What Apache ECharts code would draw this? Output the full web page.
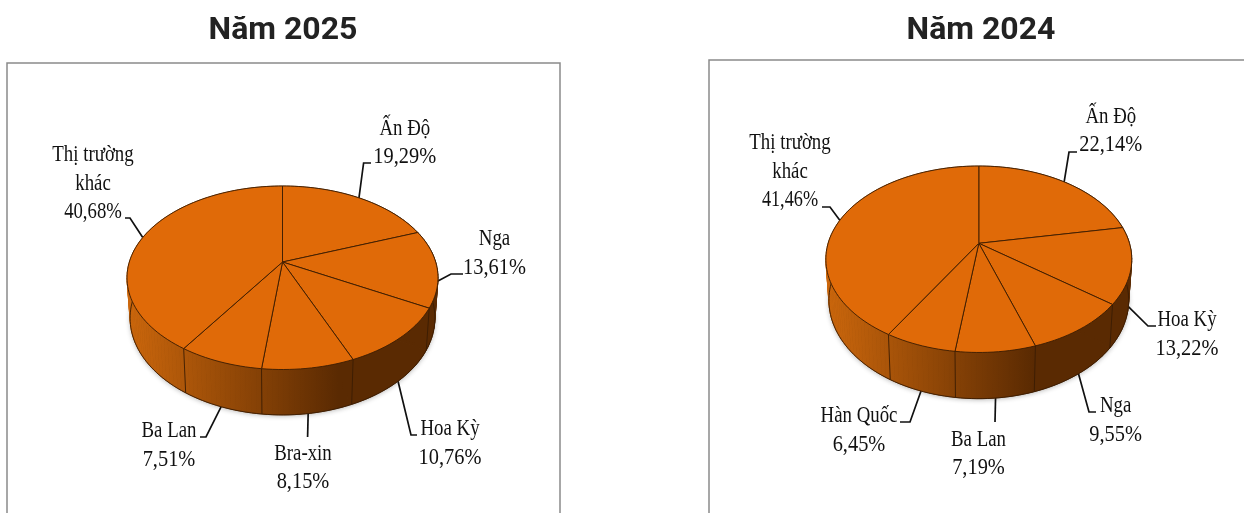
<!DOCTYPE html>
<html>
<head>
<meta charset="utf-8">
<style>html,body{margin:0;padding:0;background:#fff}#c{width:1244px;height:513px}</style>
<script src="https://cdn.jsdelivr.net/npm/echarts@6/dist/echarts.min.js"></script>
</head>
<body>
<div id="c"></div>
<script>
// ---- data ----
const titles = ['Năm 2025', 'Năm 2024'];
const categories2025 = ['Ấn Độ', 'Nga', 'Hoa Kỳ', 'Bra-xin', 'Ba Lan', 'Thị trường khác'];
const values2025 = [19.29, 13.61, 10.76, 8.15, 7.51, 40.68];
const categories2024 = ['Ấn Độ', 'Hoa Kỳ', 'Nga', 'Ba Lan', 'Hàn Quốc', 'Thị trường khác'];
const values2024 = [22.14, 13.22, 9.55, 7.19, 6.45, 41.46];

// ---- layout (camera of each tilted pie; label / leader placement) ----
const view2025 = {cx: 282.5, y0: 262, a: 153.2, b: 89.05, k: 0.1717, s: 0.98, d: 39.4};
const view2024 = {cx: 978.8, y0: 243.3, a: 150.7, b: 90.5, k: 0.171, s: 0.98, d: 40.1};
const labels2025 = [
  {x: 404.8, y: 142.5, rim: 0, line: [[363.6, 163], [371, 163]]},
  {x: 494.5, y: 253, rim: 0.35, line: [[451, 274], [463, 274]]},
  {x: 450, y: 443, rim: 1, line: [[411, 435], [417, 435]]},
  {x: 303, y: 467.5, rim: 1, line: [[307.6, 437]]},
  {x: 169, y: 445, rim: 1, line: [[206, 437], [200, 437]]},
  {x: 93, y: 183.5, rim: 0, numScale: 0.78, line: [[130, 218], [125, 218]]}
];
const labels2024 = [
  {x: 1110.8, y: 130.5, rim: 0, line: [[1069, 152], [1077, 152]]},
  {x: 1187, y: 334, rim: 1, line: [[1148, 326], [1156, 326]]},
  {x: 1115.6, y: 420, rim: 1, line: [[1089, 412], [1096, 412]]},
  {x: 978.5, y: 453.5, rim: 1, line: [[995, 422]]},
  {x: 859, y: 430, rim: 1, line: [[910, 422], [900, 422]]},
  {x: 790, y: 171.5, rim: 0, numScale: 0.76, line: [[830, 207], [822, 207]]}
];
const TOP = '#E06A08', EDGE = '#3A1C02', WALL_L = '#CC670C', WALL_R = '#5A2A02';
const LINE_GAP = 28.5;

function rows(names, vals) {
  let c = 0;
  return vals.map((v, i) => { const r = {name: names[i], value: [1, c, c + v, v]}; c += v; return r; });
}
function nameLines(name) {
  return name === 'Thị trường khác' ? ['Thị trường', 'khác'] : [name];
}
function pieSeries(polarIndex, names, vals, view, labels) {
  const wallFill = new echarts.graphic.LinearGradient(
    view.cx - view.a * 1.015, 0, view.cx + view.a * 1.015, 0,
    [{offset: 0, color: WALL_L}, {offset: 0.68, color: WALL_R}, {offset: 1, color: WALL_R}], true);
  return {
    type: 'custom', coordinateSystem: 'polar', polarIndex: polarIndex, silent: true,
    data: rows(names, vals),
    renderItem: function (params, api) {
      const cs = params.coordSys;
      const i = params.dataIndex;
      // unit-circle position from the angle axis, then perspective onto the page
      const unit = t => { const p = api.coord([1, t]); return [(p[0] - cs.cx) / cs.r, (p[1] - cs.cy) / cs.r]; };
      const topPt = t => { const [u, v] = unit(t); const w = 1 - view.k * v;
        return [view.cx + view.a * u / w, view.y0 + view.b * v / w]; };
      const botPt = t => { const [u, v] = unit(t); const w = 1 - view.k * v;
        return [view.cx + view.s * view.a * u / w, view.y0 + (view.s * view.b * v + view.d) / w]; };
      const t0 = api.value(1), t1 = api.value(2), val = api.value(3);
      const steps = Math.max(8, Math.ceil((t1 - t0) * 2));
      const topArc = [], botArc = [];
      for (let s = 0; s <= steps; s++) {
        const t = t0 + (t1 - t0) * s / steps;
        topArc.push(topPt(t)); botArc.push(botPt(t));
      }
      const apexPt = [view.cx, view.y0];
      const children = [];
      const lay = labels[i];
      // soft shadow under the disc
      children.push({type: 'polygon', z2: 0, shape: {points: [[view.cx, view.y0 + view.d]].concat(botArc)},
        style: {fill: WALL_R, shadowBlur: 5, shadowColor: 'rgba(0,0,0,0.3)', shadowOffsetY: 1}});
      // leader line
      const mid = (t0 + t1) / 2, a0 = topPt(mid), a1 = botPt(mid);
      const anchor = [a0[0] + (a1[0] - a0[0]) * lay.rim, a0[1] + (a1[1] - a0[1]) * lay.rim];
      children.push({type: 'polyline', z2: 1, shape: {points: [anchor].concat(lay.line)},
        style: {stroke: '#111', lineWidth: 1.7, fill: null}});
      // side wall as a strip of quads, so the tangent edge at the disc's sides is filled
      for (let s = 0; s < steps; s++) {
        children.push({type: 'polygon', z2: 2,
          shape: {points: [topArc[s], topArc[s + 1], botArc[s + 1], botArc[s]]},
          style: {fill: wallFill, stroke: wallFill, lineWidth: 0.7}});
      }
      children.push({type: 'polyline', z2: 2.5, shape: {points: botArc},
        style: {stroke: EDGE, lineWidth: 0.9, fill: null}});
      children.push({type: 'polyline', z2: 2.5, shape: {points: [topArc[0], botArc[0]]},
        style: {stroke: EDGE, lineWidth: 0.9, fill: null}});
      // top face
      children.push({type: 'polygon', z2: 3, shape: {points: [apexPt].concat(topArc)},
        style: {fill: TOP, stroke: EDGE, lineWidth: 0.9, lineJoin: 'round'}});
      // label, one text element per line: names are set narrower than numbers
      const text = nameLines(names[i]);
      const all = text.concat([val.toFixed(2).replace('.', ',') + '%']);
      all.forEach((line, j) => {
        children.push({type: 'text', z2: 4, x: lay.x, y: lay.y + (j - (all.length - 1) / 2) * LINE_GAP,
          scaleX: j === all.length - 1 ? (lay.numScale || 0.85) : 0.785,
          style: {text: line, fontFamily: '"Liberation Serif"', fontSize: 24,
            align: 'center', verticalAlign: 'middle', fill: '#111'}});
      });
      return {type: 'group', children: children};
    }
  };
}
const chart = echarts.init(document.getElementById('c'), null, {renderer: 'canvas'});
chart.setOption({
  animation: false,
  backgroundColor: '#fff',
  title: [
    {text: titles[0], left: 278, top: 10, textAlign: 'center',
      textStyle: {fontFamily: 'Roboto', fontWeight: 'bold', fontSize: 32, color: '#222'}},
    {text: titles[1], left: 976, top: 10, textAlign: 'center',
      textStyle: {fontFamily: 'Roboto', fontWeight: 'bold', fontSize: 32, color: '#222'}}
  ],
  graphic: [
    {type: 'rect', silent: true, shape: {x: 7, y: 63, width: 553, height: 470},
      style: {fill: 'none', stroke: '#8a8a8a', lineWidth: 1.5}},
    {type: 'rect', silent: true, shape: {x: 709, y: 60, width: 600, height: 480},
      style: {fill: 'none', stroke: '#8a8a8a', lineWidth: 1.5}}
  ],
  polar: [
    {center: [view2025.cx, view2025.y0], radius: 100},
    {center: [view2024.cx, view2024.y0], radius: 100}
  ],
  angleAxis: [
    {polarIndex: 0, type: 'value', min: 0, max: values2025.reduce((a, b) => a + b, 0), startAngle: 90, clockwise: true, show: false},
    {polarIndex: 1, type: 'value', min: 0, max: values2024.reduce((a, b) => a + b, 0), startAngle: 90, clockwise: true, show: false}
  ],
  radiusAxis: [
    {polarIndex: 0, type: 'value', min: 0, max: 1, show: false},
    {polarIndex: 1, type: 'value', min: 0, max: 1, show: false}
  ],
  series: [
    pieSeries(0, categories2025, values2025, view2025, labels2025),
    pieSeries(1, categories2024, values2024, view2024, labels2024)
  ]
});
</script>
</body>
</html>
